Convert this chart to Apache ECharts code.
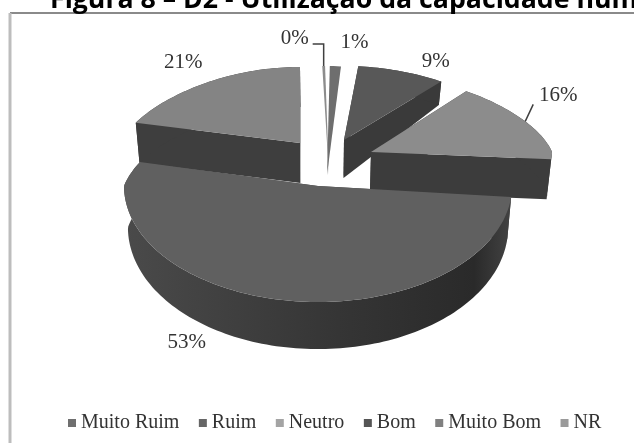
<!DOCTYPE html>
<html><head><meta charset="utf-8">
<style>html,body{margin:0;padding:0;background:#fff;overflow:hidden}#c{width:634px;height:443px;filter:blur(0.7px)}</style>
<script src="https://cdn.jsdelivr.net/npm/echarts@6/dist/echarts.min.js"></script>
</head><body><div id="c"></div>
<script>
const categories = ['Muito Ruim', 'Ruim', 'Neutro', 'Bom', 'Muito Bom', 'NR'];
const values = [0.3, 1.2, 9, 16, 52.8, 20.7];
const topColors = ['#8c8c8c', '#6e6e6e', '#585858', '#8c8c8c', '#606060', '#848484'];
const sideColors = ['#8c8c8c', '#6e6e6e', '#3a3a3a', '#3c3c3c', '#3c3c3c', '#3e3e3e'];
const legendColors = ['#6f6f6f', '#666666', '#a4a4a4', '#555555', '#808080', '#9a9a9a'];
const drawOrder = [5, 0, 1, 2, 3, 4];

// 3-D look of the exploded pie: where each slice's tip sits, its radii and its wall height, on screen
const sliceLook = [
  { ax: 329, ay: 175, R: 181, ryB: 109, ryF: 109, p: .18, flat: true, rotate: -2.6, label: [-29, -28], leader: [[0, 0], [0, -22], [-11, -22]] },
  { ax: 327, ay: 175, R: 181, ryB: 109, ryF: 109, p: .18, flat: true, rotate: 0, label: [19, -24] },
  { ax: 344, ay: 140, R: 185, ryB: 74, ryF: 74, p: .18, rotate: 0, label: [35, -10], wall: [[80, 23], [140, 38]] },
  { ax: 371, ay: 152, R: 181, ryB: 77, ryF: 77, p: .18, rotate: 0, label: [33, -26], leader: [[0, 0], [8, -17]], wall: [[80, 40], [140, 40]] },
  { ax: 318, ay: 186, R: 194, ryB: 90, ryF: 116, p: .18, rotate: 0, label: [-96, 42], gradient: true, wall: [[160, 40], [300, 47]] },
  { ax: 300, ay: 143, R: 179, ryB: 76, ryF: 76, p: .18, rotate: 0, label: [-24, -20], wall: [[80, 40], [140, 40]] }
];
const serif = '"Liberation Serif", serif';

const total = values.reduce((a, b) => a + b, 0);
function wallAt(l, y) {
  const [a, b] = l.wall;
  const t = Math.max(0, Math.min(1, (y - a[0]) / (b[0] - a[0])));
  return a[1] + (b[1] - a[1]) * t;
}
function rimPoint(l, deg) {
  const t = (deg + l.rotate) * Math.PI / 180, s = Math.sin(t), c = Math.cos(t);
  const f = 1 - l.p * Math.max(c, 0);
  return [l.ax + l.R * s * f, l.ay - (c > 0 ? l.ryB : l.ryF) * c];
}

function sliceRenderer(i) {
  const startShare = values.slice(0, i).reduce((a, b) => a + b, 0) / total;
  return function (params, api) {
    const share = api.value(0) / total;
    const a0 = startShare * 360, a1 = a0 + share * 360;
    const l = sliceLook[i];
    const lower = (pt) => [pt[0] - 0.02 * (pt[0] - 320), pt[1] + wallAt(l, pt[1])];
    const rim = [];
    const n = Math.max(2, Math.ceil((a1 - a0) / 1.5));
    for (let k = 0; k <= n; k++) rim.push(rimPoint(l, a0 + (a1 - a0) * k / n));
    const tip = [l.ax, l.ay];
    const kids = [];
    if (!l.flat) {
      const fill = l.gradient
        ? new echarts.graphic.LinearGradient(125, 0, 513, 0, [
            { offset: 0, color: '#4a4a4a' }, { offset: .55, color: '#353535' },
            { offset: .9, color: '#2a2a2a' }, { offset: 1, color: '#444444' }], true)
        : sideColors[i];
      const quad = (p) => ({ type: 'polygon', shape: { points: [tip, p, lower(p), lower(tip)] }, style: { fill: sideColors[i] } });
      kids.push(quad(rim[0]), quad(rim[rim.length - 1]));
      kids.push({ type: 'polygon', shape: { points: rim.concat(rim.map(lower).reverse()) }, style: { fill } });
    }
    kids.push({ type: 'polygon', shape: { points: [tip].concat(rim) }, style: { fill: topColors[i] } });
    const m = rimPoint(l, (a0 + a1) / 2);
    kids.push({
      type: 'text', z2: 5,
      style: { text: Math.round(share * 100) + '%', x: m[0] + l.label[0], y: m[1] + l.label[1], align: 'center', verticalAlign: 'middle', font: '21px ' + serif, fill: '#333333' }
    });
    if (l.leader) {
      kids.push({ type: 'polyline', z2: 5, shape: { points: l.leader.map(o => [m[0] + o[0], m[1] + o[1]]) }, style: { stroke: '#404040', lineWidth: 1.5, fill: null } });
    }
    return { type: 'group', children: kids };
  };
}

const chart = echarts.init(document.getElementById('c'));
chart.setOption({
  animation: false,
  backgroundColor: '#ffffff',
  title: {
    text: 'Figura 8 – D2 - Utilização da capacidade humana',
    left: 45, top: -18,
    textStyle: { fontFamily: '"Open Sans", sans-serif', fontWeight: 'bold', fontSize: 26.7, color: '#000000' }
  },
  legend: {
    left: 63, top: 408, itemGap: 19.5, itemWidth: 8, itemHeight: 8, icon: 'rect', selectedMode: false,
    textStyle: { fontFamily: serif, fontSize: 20, color: '#333333' },
    data: categories.map((name, i) => ({ name, itemStyle: { color: legendColors[i] } }))
  },
  graphic: [
    { type: 'line', shape: { x1: 10, y1: 13, x2: 634, y2: 13 }, style: { stroke: '#8a8a8a', lineWidth: 2 } },
    { type: 'line', shape: { x1: 10, y1: 13, x2: 10, y2: 443 }, style: { stroke: '#bdbdbd', lineWidth: 3 } }
  ],
  series: drawOrder.map(i => ({
    type: 'custom', name: categories[i], coordinateSystem: 'none', silent: true,
    itemStyle: { color: legendColors[i] },
    renderItem: sliceRenderer(i),
    data: [[values[i]]]
  }))
});
</script></body></html>
